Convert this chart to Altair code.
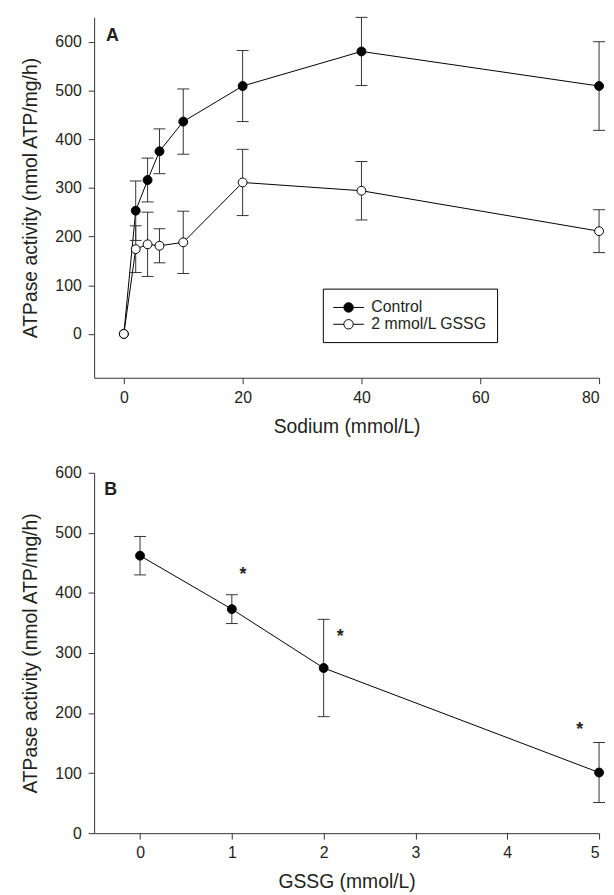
import altair as alt
import pandas as pd

FONT = "Liberation Sans"
TXT = "#231f20"
AX = "#333333"

# ---------------- Panel A data ----------------
sodium = [0, 2, 4, 6, 10, 20, 40, 80]
ctrl_mean = [0, 253, 316, 375, 436, 509, 580, 509]
ctrl_err = [0, 61, 45, 46, 67, 73, 70, 91]
gssg_mean = [0, 174, 184, 181, 188, 311, 294, 211]
gssg_err = [0, 48, 66, 35, 64, 68, 60, 44]
series_names = ["Control", "2 mmol/L GSSG"]
a_xticks = [0, 20, 40, 60, 80]
a_yticks = [0, 100, 200, 300, 400, 500, 600]
a_label = ["A"]
a_label_x = [-1.9]
a_label_y = [612]

# ---------------- Panel B data ----------------
gssg_conc = [0, 1, 2, 5]
b_mean = [462, 373, 275, 101]
b_err = [32, 24, 81, 50]
b_xticks = [0, 1, 2, 3, 4, 5]
b_yticks = [0, 100, 200, 300, 400, 500, 600]
star_x = [1.12, 2.18, 4.79]
star_y = [438, 334, 180]
b_label = ["B"]
b_label_x = [-0.32]
b_label_y = [572]

rows = []
for k, (name, means, errs) in enumerate([(series_names[0], ctrl_mean, ctrl_err),
                                         (series_names[1], gssg_mean, gssg_err)]):
    for x, m, e in zip(sodium, means, errs):
        rows.append({"x": x, "y": m, "err": e, "lo": m - e, "hi": m + e,
                     "series": name, "ord": k})
df_a = pd.DataFrame(rows)
df_a_err = df_a[df_a["err"] > 0]

df_b = pd.DataFrame({"x": gssg_conc, "y": b_mean, "err": b_err})
df_b["lo"] = df_b["y"] - df_b["err"]
df_b["hi"] = df_b["y"] + df_b["err"]
df_star = pd.DataFrame({"x": star_x, "y": star_y, "t": ["*"] * len(star_x)})

W, H = 510, 364

ytitle = "ATPase activity (nmol ATP/mg/h)"

ax_common = dict(domainColor=AX, tickColor=AX, tickSize=6, grid=False,
                 labelFont=FONT, labelFontSize=16, labelColor=TXT,
                 titleFont=FONT, titleFontSize=19.5, titleFontWeight="normal",
                 titleColor=TXT)

# ---------------- Panel A ----------------
xa = alt.X("x:Q", scale=alt.Scale(domain=[-5, 80], nice=False, zero=False),
           axis=alt.Axis(values=a_xticks, format="d", title="Sodium (mmol/L)",
                         labelPadding=6, titlePadding=12, **ax_common))
ya = alt.Y("y:Q", scale=alt.Scale(domain=[-90, 650], nice=False, zero=False),
           axis=alt.Axis(values=a_yticks, format="d", title=ytitle, labelPadding=7,
                         titlePadding=15, **ax_common))

# legend glyph: line - circle - line, shifted so it starts at the symbol column edge
sym_path = ("M-1,0L0.26,0M1.38,0L2.64,0M0.26,0A0.56,0.56,0,1,1,1.38,0"
            "A0.56,0.56,0,1,1,0.26,0Z")

base_a = alt.Chart(df_a)
line_a = base_a.mark_line(color="black", strokeWidth=1).encode(
    x=xa, y=ya, detail="series:N")
rule_a = alt.Chart(df_a_err).mark_rule(color=AX, strokeWidth=1).encode(
    x="x:Q", y="lo:Q", y2="hi:Q")
cap_lo_a = alt.Chart(df_a_err).mark_tick(color=AX, size=12, thickness=1,
                                         orient="horizontal", opacity=1).encode(
    x="x:Q", y="lo:Q")
cap_hi_a = alt.Chart(df_a_err).mark_tick(color=AX, size=12, thickness=1,
                                         orient="horizontal", opacity=1).encode(
    x="x:Q", y="hi:Q")
pts_a = base_a.mark_point(shape="circle", filled=True, size=80, stroke="black",
                          strokeWidth=1, opacity=1).encode(
    x="x:Q", y="y:Q",
    fill=alt.Fill("series:N",
                  scale=alt.Scale(domain=series_names, range=["black", "white"]),
                  legend=alt.Legend(title=None, orient="none", legendX=231, legendY=274,
                                    symbolType=sym_path, symbolSize=289,
                                    symbolStrokeColor="black", symbolStrokeWidth=1,
                                    symbolOpacity=1, labelFont=FONT, labelFontSize=16,
                                    labelColor=TXT, labelOffset=21, padding=10,
                                    rowPadding=0, strokeColor="black",
                                    fillColor="white", cornerRadius=0)),
    order=alt.Order("ord:Q"))
lab_a = alt.Chart(pd.DataFrame({"x": a_label_x, "y": a_label_y, "t": a_label})).mark_text(
    font=FONT, fontSize=18, fontWeight="bold", color=TXT, align="center",
    baseline="middle").encode(x="x:Q", y="y:Q", text="t:N")

panel_a = alt.layer(line_a, rule_a, cap_lo_a, cap_hi_a, pts_a, lab_a).properties(
    width=W, height=H)

# ---------------- Panel B ----------------
xb = alt.X("x:Q", scale=alt.Scale(domain=[-0.5, 5], nice=False, zero=False),
           axis=alt.Axis(values=b_xticks, format="d", title="GSSG (mmol/L)",
                         labelPadding=6, titlePadding=12, **ax_common))
yb = alt.Y("y:Q", scale=alt.Scale(domain=[0, 600], nice=False, zero=False),
           axis=alt.Axis(values=b_yticks, format="d", title=ytitle, labelPadding=7,
                         titlePadding=15, **ax_common))

base_b = alt.Chart(df_b)
line_b = base_b.mark_line(color="black", strokeWidth=1).encode(x=xb, y=yb)
rule_b = base_b.mark_rule(color=AX, strokeWidth=1).encode(x="x:Q", y="lo:Q", y2="hi:Q")
cap_lo_b = base_b.mark_tick(color=AX, size=12, thickness=1, orient="horizontal",
                            opacity=1).encode(x="x:Q", y="lo:Q")
cap_hi_b = base_b.mark_tick(color=AX, size=12, thickness=1, orient="horizontal",
                            opacity=1).encode(x="x:Q", y="hi:Q")
pts_b = base_b.mark_point(shape="circle", filled=True, size=80, stroke="black",
                          strokeWidth=1, opacity=1, fill="black").encode(x="x:Q", y="y:Q")
stars = alt.Chart(df_star).mark_text(font=FONT, fontSize=18, fontWeight="bold",
                                     color=TXT, align="center", baseline="middle",
                                     dy=5).encode(x="x:Q", y="y:Q", text="t:N")
lab_b = alt.Chart(pd.DataFrame({"x": b_label_x, "y": b_label_y, "t": b_label})).mark_text(
    font=FONT, fontSize=18, fontWeight="bold", color=TXT, align="center",
    baseline="middle").encode(x="x:Q", y="y:Q", text="t:N")

panel_b = alt.layer(line_b, rule_b, cap_lo_b, cap_hi_b, pts_b, stars, lab_b).properties(
    width=W, height=H)

chart = alt.vconcat(panel_a, panel_b, spacing=29).resolve_scale(
    fill="independent").resolve_legend(fill="independent").properties(
    padding={"left": 12, "top": 4, "right": 0, "bottom": 0}
).configure_view(stroke=None)

chart.save("out.html", embed_options={"renderer": "svg", "actions": False})
